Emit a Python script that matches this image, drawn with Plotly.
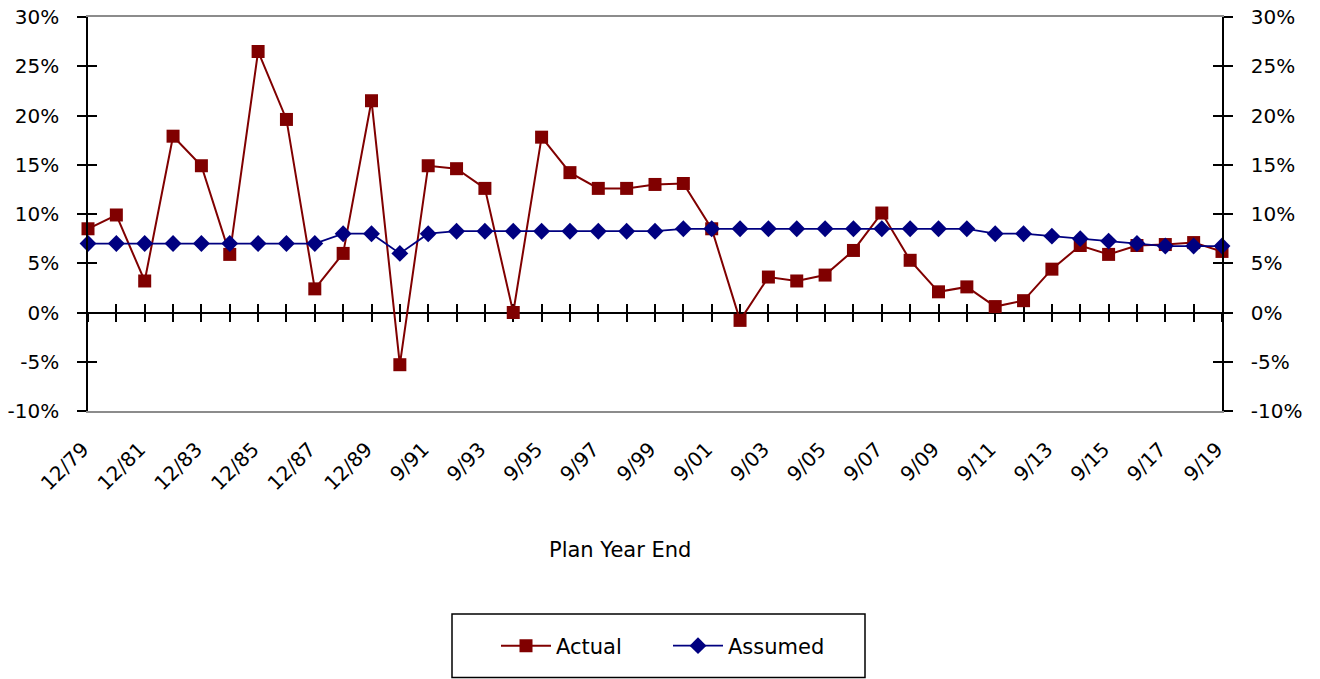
import plotly.graph_objects as go

# Plan year ends (December through 1989, September from 1990 on)
plan_year_end = (
    ["12/%02d" % y for y in range(79, 90)]
    + ["9/%02d" % (y % 100) for y in range(1990, 2020)]
)

# Actual investment return by plan year (%)
actual = [8.5, 9.9, 3.2, 17.9, 14.9, 5.9, 26.5, 19.6, 2.4, 6.0, 21.5,
          -5.3, 14.9, 14.6, 12.6, 0.0, 17.8, 14.2, 12.6, 12.6, 13.0, 13.1,
          8.5, -0.8, 3.6, 3.2, 3.8, 6.3, 10.1, 5.3, 2.1, 2.6, 0.6, 1.2,
          4.4, 6.8, 5.9, 6.8, 6.9, 7.1, 6.2]

# Assumed rate of return by plan year (%)
assumed = [7.0, 7.0, 7.0, 7.0, 7.0, 7.0, 7.0, 7.0, 7.0, 8.0, 8.0,
           6.0, 8.0, 8.25, 8.25, 8.25, 8.25, 8.25, 8.25, 8.25, 8.25, 8.5,
           8.5, 8.5, 8.5, 8.5, 8.5, 8.5, 8.5, 8.5, 8.5, 8.5, 8.0, 8.0,
           7.75, 7.5, 7.25, 7.0, 6.75, 6.75, 6.75]

y_ticks = [-10, -5, 0, 5, 10, 15, 20, 25, 30]
y_tick_text = ["%d%%" % v for v in y_ticks]

FONT = "DejaVu Sans"
RED = "#800000"
NAVY = "#000080"

# plot area in pixels
L, R, T, B = 88, 1222, 17, 411
W, H = 1320, 679
PW, PH = R - L, B - T


def px(x):
    return (x - L) / PW


def py(y):
    return (B - y) / PH


idx = list(range(len(plan_year_end)))
label_idx = idx[::2]
label_text = [plan_year_end[i] for i in label_idx]
xr = [0, len(plan_year_end) - 1]
yr = [-10, 30]

fig = go.Figure()
fig.add_trace(go.Scatter(
    x=idx, y=actual, name="Actual", mode="lines+markers",
    line=dict(color=RED, width=2),
    marker=dict(symbol="square", size=13, color=RED),
    cliponaxis=False,
))
fig.add_trace(go.Scatter(
    x=idx, y=assumed, name="Assumed", mode="lines+markers",
    line=dict(color=NAVY, width=1.75),
    marker=dict(symbol="diamond", size=13, color=NAVY),
    cliponaxis=False,
))
# empty helper traces so the extra tick axes are laid out
for xa, ya in [("x2", "y2"), ("x3", "y3"), ("x", "y4")]:
    fig.add_trace(go.Scatter(x=[], y=[], xaxis=xa, yaxis=ya,
                             showlegend=False, hoverinfo="skip"))

ax_common = dict(showgrid=False, zeroline=False, automargin=False)
tick_style = dict(ticklen=9, tickwidth=1.5, tickcolor="black")

fig.update_layout(
    width=W, height=H,
    margin=dict(l=L, r=W - R, t=T, b=H - B, autoexpand=False),
    paper_bgcolor="white", plot_bgcolor="white",
    font=dict(family=FONT, size=20, color="#000000"),
    showlegend=True,
    legend=dict(
        orientation="h", x=px(668), xanchor="center", y=py(646),
        yanchor="middle",
        bgcolor="rgba(0,0,0,0)", borderwidth=0,
        font=dict(size=21), entrywidth=107, entrywidthmode="pixels",
        itemwidth=50,
    ),
    xaxis=dict(
        **ax_common, type="linear", range=xr,
        tickmode="array", tickvals=label_idx, ticktext=label_text,
        ticks="", tickangle=-45, ticklabelshift=-5, ticklabelstandoff=17,
        tickfont=dict(size=20),
        showline=True, linecolor="#8c8c8c", linewidth=1.5, mirror=True,
    ),
    xaxis2=dict(
        **ax_common, type="linear", range=xr, overlaying="x",
        anchor="free", position=0.25, side="bottom",
        tickmode="array", tickvals=idx, showticklabels=False,
        ticks="outside", **tick_style,
        showline=True, linecolor="black", linewidth=1.5, layer="below traces",
    ),
    xaxis3=dict(
        **ax_common, type="linear", range=xr, overlaying="x",
        anchor="free", position=0.25, side="bottom",
        tickmode="array", tickvals=idx, showticklabels=False,
        ticks="inside", **tick_style,
        showline=False, layer="below traces",
    ),
    yaxis=dict(
        **ax_common, range=yr, tickmode="array",
        tickvals=y_ticks, ticktext=y_tick_text,
        ticks="outside", **tick_style,
        showline=True, linecolor="black", linewidth=1.5,
        ticklabelstandoff=14,
    ),
    yaxis2=dict(
        **ax_common, range=yr, overlaying="y", side="right", anchor="x",
        tickmode="array", tickvals=y_ticks, ticktext=y_tick_text,
        ticks="outside", **tick_style,
        showline=True, linecolor="black", linewidth=1.5,
        ticklabelstandoff=14,
    ),
    yaxis3=dict(
        **ax_common, range=yr, overlaying="y", side="left", anchor="x",
        tickmode="array", tickvals=y_ticks, showticklabels=False,
        ticks="inside", **tick_style, showline=False,
    ),
    yaxis4=dict(
        **ax_common, range=yr, overlaying="y", side="right", anchor="x",
        tickmode="array", tickvals=y_ticks, showticklabels=False,
        ticks="inside", **tick_style, showline=False,
    ),
    annotations=[dict(
        text="Plan Year End", xref="paper", yref="paper",
        x=px(620), y=py(550),
        xanchor="center", yanchor="middle", showarrow=False,
        font=dict(size=21),
    )],
    shapes=[dict(
        type="rect", xref="paper", yref="paper",
        x0=px(452), x1=px(865), y0=py(614), y1=py(677.5),
        line=dict(color="black", width=1.5), fillcolor="rgba(0,0,0,0)",
    )],
)

fig.write_html("out.html")
